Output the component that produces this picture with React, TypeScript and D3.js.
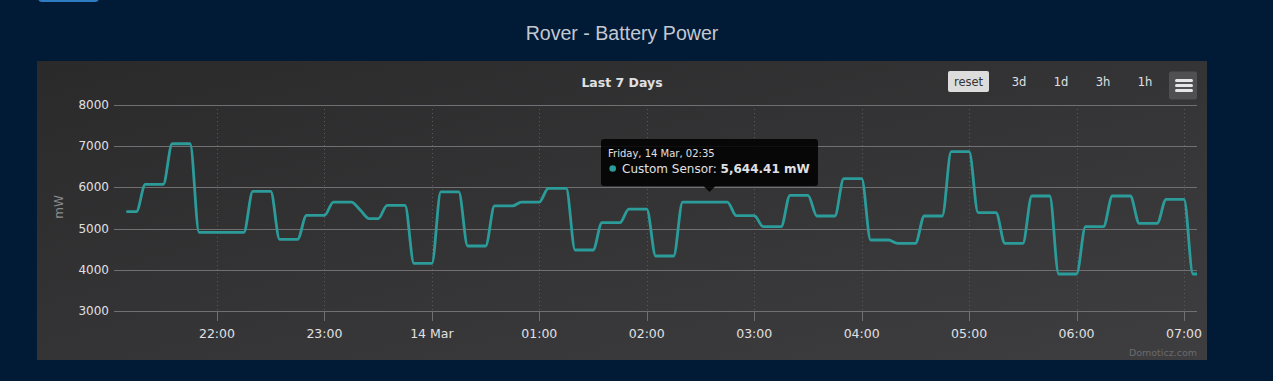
import React from "react";
import * as d3 from "d3";

// ---- Data ----
const chartTitle = "Rover - Battery Power";
const subtitle = "Last 7 Days";
const seriesName = "Custom Sensor";
const unit = "mW";
const firstSample = new Date(2025, 2, 13, 21, 10); // samples every 5 minutes
const stepMinutes = 5;
const values: number[] = [
  5410, 5410,
  6075, 6075, 6075,
  7060, 7060, 7060,
  4910, 4910, 4910, 4910, 4910, 4910,
  5905, 5905, 5905,
  4740, 4740, 4740,
  5320, 5320, 5320,
  5645, 5645, 5645,
  5450,
  5240, 5240,
  5565, 5565, 5565,
  4157, 4157, 4157,
  5890, 5890, 5890,
  4578, 4578, 4578,
  5550, 5550, 5550,
  5645, 5645, 5645,
  5978, 5978, 5978,
  4480, 4480, 4480,
  5143, 5143, 5143,
  5475, 5475, 5475,
  4335, 4335, 4335,
  5644.41, 5644.41, 5644.41, 5644.41, 5644.41, 5644.41,
  5313, 5313, 5313,
  5046, 5046, 5046,
  5808, 5808, 5808,
  5306, 5306, 5306,
  6211, 6211, 6211,
  4723, 4723, 4723,
  4643, 4643, 4643,
  5306, 5306, 5306,
  6867, 6867, 6867,
  5386, 5386, 5386,
  4643, 4643, 4643,
  5791, 5791, 5791,
  3898, 3898, 3898,
  5046, 5046, 5046,
  5791, 5791, 5791,
  5129, 5129, 5129,
  5711, 5711, 5711,
  3898, 3898,
];
const xMin = new Date(2025, 2, 13, 21, 2, 30);
const xMax = new Date(2025, 2, 14, 7, 7, 15);
const yTicks = [3000, 4000, 5000, 6000, 7000, 8000];
const xTickTimes = [
  new Date(2025, 2, 13, 22), new Date(2025, 2, 13, 23), new Date(2025, 2, 14, 0),
  new Date(2025, 2, 14, 1), new Date(2025, 2, 14, 2), new Date(2025, 2, 14, 3),
  new Date(2025, 2, 14, 4), new Date(2025, 2, 14, 5), new Date(2025, 2, 14, 6),
  new Date(2025, 2, 14, 7),
];
const xTickLabels = ["22:00", "23:00", "14 Mar", "01:00", "02:00", "03:00", "04:00", "05:00", "06:00", "07:00"];
const rangeButtons = ["3d", "1d", "3h", "1h"];
const tooltipDate = "Friday, 14 Mar, 02:35";
const tooltipTime = new Date(2025, 2, 14, 2, 35);
const tooltipValue = 5644.41;

export default function App() {
  const W = 1273, H = 381;
  const left = 114, right = 1197, top = 105, bottom = 311;
  const x = d3.scaleTime().domain([xMin, xMax]).range([left, right]);
  const y = d3.scaleLinear().domain([3000, 8000]).range([bottom, top]);
  const data = values.map((v, i) => ({ t: new Date(firstSample.getTime() + i * stepMinutes * 60000), v }));
  const line = d3.line<{ t: Date; v: number }>().x(d => x(d.t)).y(d => y(d.v)).curve(d3.curveMonotoneX);
  const font = "'DejaVu Sans', Verdana, sans-serif";
  const teal = "#2b9c9a";
  const tipX = x(tooltipTime);
  const tipBox = { x0: 601, x1: 818, y0: 139, y1: 186 };
  const fmt = d3.format(",.2f");

  return (
    <svg width={W} height={H} style={{ position: "absolute", left: 0, top: 0 }}>
      <defs>
        <linearGradient id="bg" x1="0" y1="0" x2="1" y2="1">
          <stop offset="0" stopColor="#2a2a2b" />
          <stop offset="1" stopColor="#3e3e40" />
        </linearGradient>
        <clipPath id="plot">
          <rect x={left} y={top - 5} width={right - left} height={bottom - top + 10} />
        </clipPath>
      </defs>
      <rect x={0} y={0} width={W} height={H} fill="#011a36" />
      <rect x={38} y={-10} width={61} height={12} rx={4} fill="#2f7bc2" />
      <text x={622} y={40} textAnchor="middle" fontFamily="'Liberation Sans', Arial, sans-serif" fontSize={19.6} fill="#c3c8d1">{chartTitle}</text>

      <rect x={37} y={61} width={1170} height={299} fill="url(#bg)" />
      <text x={622} y={87} textAnchor="middle" fontFamily={font} fontSize={12.5} fontWeight="bold" fill="#e0e0e3">{subtitle}</text>

      {/* buttons */}
      <rect x={948} y={71} width={41} height={21} rx={2} fill="#dcdcdc" />
      <text x={968.5} y={86} textAnchor="middle" fontFamily={font} fontSize={11.5} fill="#333">reset</text>
      {rangeButtons.map((b, i) => (
        <text key={b} x={1019 + i * 42} y={86} textAnchor="middle" fontFamily={font} fontSize={11.5} fill="#e0e0e3">{b}</text>
      ))}
      <rect x={1169} y={71.5} width={28} height={28} rx={2} fill="#505053" />
      {[80.5, 85.5, 90.5].map((yy, i) => (
        <line key={i} x1={1176.5} x2={1191.5} y1={yy} y2={yy} stroke="#e6e6e6" strokeWidth={3} strokeLinecap="round" />
      ))}

      {/* vertical grid */}
      {xTickTimes.map((t, i) => (
        <line key={"vg" + i} x1={Math.round(x(t)) + 0.5} x2={Math.round(x(t)) + 0.5} y1={top} y2={bottom} stroke="#5a5a5d" strokeDasharray="1,3" />
      ))}
      {/* horizontal grid */}
      {yTicks.map(v => (
        <line key={"hg" + v} x1={left} x2={right} y1={Math.round(y(v)) + 0.5} y2={Math.round(y(v)) + 0.5} stroke="#707073" />
      ))}
      {yTicks.map(v => (
        <text key={"yl" + v} x={109} y={y(v) + 4} textAnchor="end" fontFamily={font} fontSize={12} fill="#e0e0e3">{v}</text>
      ))}
      <text transform={`translate(63,207) rotate(-90)`} textAnchor="middle" fontFamily={font} fontSize={12} fill="#8a8a8d">{unit}</text>

      {/* x axis */}
      <line x1={left} x2={right} y1={bottom + 0.5} y2={bottom + 0.5} stroke="#707073" />
      {xTickTimes.map((t, i) => (
        <g key={"xt" + i}>
          <line x1={Math.round(x(t)) + 0.5} x2={Math.round(x(t)) + 0.5} y1={bottom} y2={bottom + 10} stroke="#707073" />
          <text x={x(t)} y={338} textAnchor="middle" fontFamily={font} fontSize={12.5} fill="#e0e0e3">{xTickLabels[i]}</text>
        </g>
      ))}

      {/* series */}
      <path d={line(data) || ""} fill="none" stroke={teal} strokeWidth={2.8} strokeLinejoin="round" strokeLinecap="round" clipPath="url(#plot)" />

      {/* tooltip */}
      <path
        d={`M${tipBox.x0 + 3},${tipBox.y0} H${tipBox.x1 - 3} Q${tipBox.x1},${tipBox.y0} ${tipBox.x1},${tipBox.y0 + 3} V${tipBox.y1 - 3} Q${tipBox.x1},${tipBox.y1} ${tipBox.x1 - 3},${tipBox.y1} H${tipX + 6} L${tipX},${tipBox.y1 + 6} L${tipX - 6},${tipBox.y1} H${tipBox.x0 + 3} Q${tipBox.x0},${tipBox.y1} ${tipBox.x0},${tipBox.y1 - 3} V${tipBox.y0 + 3} Q${tipBox.x0},${tipBox.y0} ${tipBox.x0 + 3},${tipBox.y0} Z`}
        fill="rgba(0,0,0,0.85)"
      />
      <text x={608} y={157} fontFamily={font} fontSize={10} fill="#e0e0e3">{tooltipDate}</text>
      <circle cx={612.7} cy={168.5} r={3.3} fill={teal} />
      <text x={622} y={172.5} fontFamily={font} fontSize={12} fill="#e0e0e3">
        {seriesName}: <tspan fontWeight="bold">{fmt(tooltipValue)} {unit}</tspan>
      </text>

      <text x={1197} y={356} textAnchor="end" fontFamily={font} fontSize={9.5} fill="#6a6a6d">Domoticz.com</text>
    </svg>
  );
}
